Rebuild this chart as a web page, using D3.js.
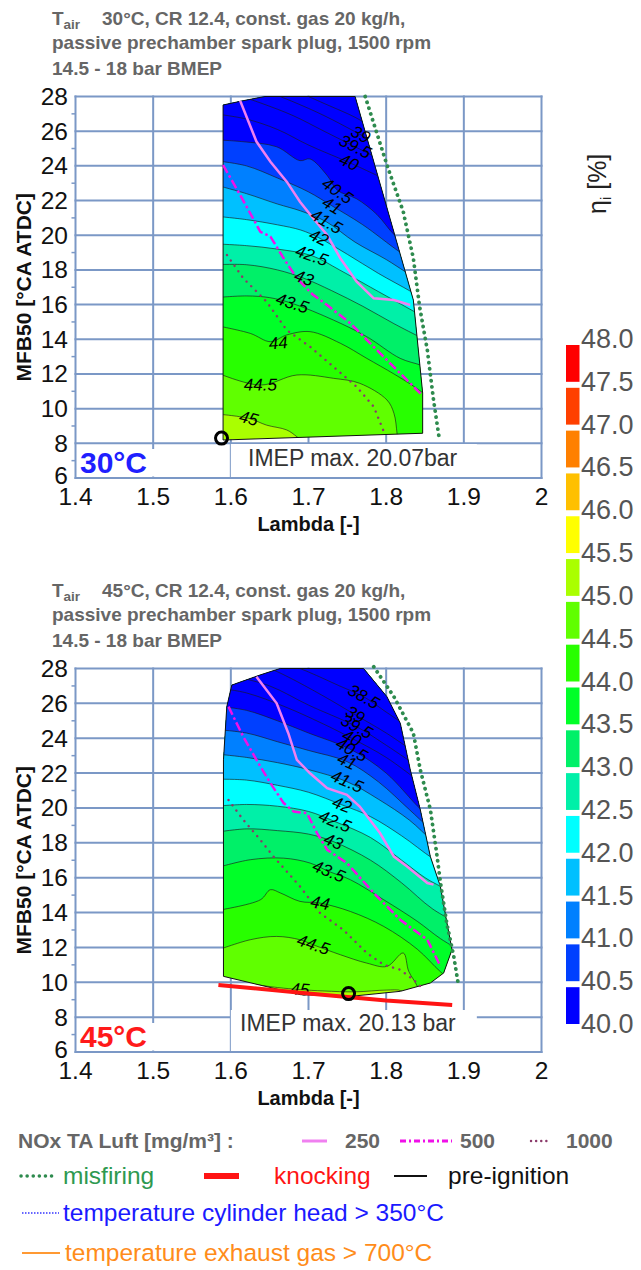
<!DOCTYPE html>
<html>
<head>
<meta charset="utf-8" />
<title>Indicated efficiency map</title>
<script src="https://d3js.org/d3.v7.min.js"></script>
<style>
  body { margin: 0; background: #fff; }
  svg { display: block; font-family: "Liberation Sans", Arial, sans-serif; }
</style>
</head>
<body>
<svg width="641" height="1270"></svg>
<script>
// axes
const xTicks = [1.4, 1.5, 1.6, 1.7, 1.8, 1.9, 2];
const yTicks = [6, 8, 10, 12, 14, 16, 18, 20, 22, 24, 26, 28];
const yMinor = [7, 9, 11, 13, 15, 17, 19, 21, 23, 25, 27];

// colour bar (eta_i, %)
const cbLevels = [40, 40.5, 41, 41.5, 42, 42.5, 43, 43.5, 44, 44.5, 45, 45.5, 46, 46.5, 47, 47.5, 48];
const cbColors = ["#0000ff", "#0040ff", "#0080ff", "#00c0ff", "#00ffff", "#00f0a8", "#00f068", "#00ff28",
                  "#28ff00", "#60ff00", "#aaff00", "#ffff00", "#ffc000", "#ff8000", "#ff4000", "#ff0000"];

// ---- 30 °C map: [lambda, MFB50]
const boundary30 = [[1.59, 8.19], [1.59, 27.51], [1.615, 27.75], [1.644, 28], [1.760, 28],
                    [1.835, 16.26], [1.847, 10.9], [1.847, 8.58]];
const iso30 = [
  [38.5, [[1.68, 28.4], [1.72, 27.6], [1.76, 26.8], [1.79, 26.0], [1.81, 25.4]]],
  [39, [[1.64, 28.4], [1.68, 27.7], [1.72, 26.9], [1.767, 25.8], [1.80, 25.0]]],
  [39.5, [[1.60, 28.2], [1.64, 27.6], [1.68, 26.9], [1.72, 26.0], [1.76, 25.1], [1.80, 24.2]]],
  [40, [[1.58, 27.0], [1.62, 26.7], [1.66, 26.1], [1.70, 25.2], [1.752, 24.2], [1.80, 23.2]]],
  [40.5, [[1.58, 25.5], [1.614, 25.4], [1.659, 25.1], [1.689, 24.3], [1.702, 24.4], [1.724, 23.45], [1.737, 22.6], [1.762, 22.1], [1.788, 21.2], [1.811, 20.0], [1.84, 19.0]]],
  [41, [[1.58, 24.3], [1.62, 24.0], [1.66, 23.3], [1.70, 22.5], [1.730, 21.7], [1.77, 20.6], [1.817, 19.05], [1.84, 18.4]]],
  [41.5, [[1.58, 22.9], [1.62, 22.4], [1.66, 21.8], [1.69, 21.4], [1.7228, 20.78], [1.76, 19.6], [1.80, 18.6], [1.8245, 17.9], [1.85, 17.2]]],
  [42, [[1.58, 21.1], [1.62, 20.9], [1.66, 20.6], [1.69, 20.3], [1.713, 19.86], [1.75, 18.9], [1.79, 17.8], [1.832, 16.75], [1.86, 16.0]]],
  [42.5, [[1.58, 19.5], [1.62, 19.4], [1.66, 19.2], [1.7044, 18.82], [1.74, 18.0], [1.78, 17.0], [1.82, 16.0], [1.84, 15.5], [1.86, 15.0]]],
  [43, [[1.58, 18.3], [1.62, 18.3], [1.66, 18.0], [1.694, 17.52], [1.73, 16.8], [1.77, 15.9], [1.81, 14.9], [1.845, 14.1], [1.86, 13.8]]],
  [43.5, [[1.58, 16.4], [1.62, 16.5], [1.65, 16.4], [1.679, 16.07], [1.732, 15.11], [1.775, 14.15], [1.818, 12.9], [1.845, 12.5], [1.86, 12.2]]],
  [44, [[1.58, 14.8], [1.625, 14.34], [1.651, 13.86], [1.672, 14.25], [1.702, 14.44], [1.741, 13.77], [1.775, 12.9], [1.81, 12.0], [1.835, 11.3], [1.86, 10.5]]],
  [44.5, [[1.58, 12.1], [1.638, 11.36], [1.685, 11.94], [1.732, 11.75], [1.766, 11.46], [1.801, 10.5], [1.81, 9.73], [1.814, 8.58], [1.816, 7.5]]],
  [45, [[1.58, 9.7], [1.623, 9.44], [1.646, 9.05], [1.672, 8.77], [1.685, 8.38], [1.70, 7.8]]]
];
const labels30 = [[39, 1.767, 25.8], [39.5, 1.760, 25.1], [40, 1.752, 24.2], [40.5, 1.737, 22.55], [41, 1.730, 21.7],
                  [41.5, 1.723, 20.78], [42, 1.713, 19.86], [42.5, 1.704, 18.82], [43, 1.694, 17.52], [43.5, 1.679, 16.07],
                  [44, 1.661, 13.77], [44.5, 1.638, 11.36], [45, 1.623, 9.44]];
const nox250_30 = [[1.612, 27.75], [1.633, 25.4], [1.651, 24.24], [1.672, 23.09], [1.689, 21.93], [1.706, 20.98], [1.724, 20.01],
                   [1.741, 18.67], [1.762, 17.32], [1.784, 16.36], [1.81, 16.26], [1.831, 15.98]];
const nox500_30 = [[1.59, 24.05], [1.612, 22.32], [1.638, 20.2], [1.651, 19.92], [1.668, 18.67], [1.685, 17.52], [1.705, 16.6],
                   [1.723, 16.0], [1.754, 14.92], [1.788, 13.38], [1.818, 12.04], [1.846, 10.79]];
const nox1000_30 = [[1.595, 18.86], [1.616, 17.52], [1.646, 16.17], [1.672, 14.53], [1.702, 13.57], [1.732, 12.42],
                    [1.762, 11.26], [1.784, 10.11], [1.797, 8.67]];
const misfire30 = [[1.773, 28], [1.801, 24.05], [1.822, 21.36], [1.835, 18.67], [1.843, 15.9], [1.853, 13.38], [1.861, 10.5], [1.868, 8.38]];
const marker30 = [1.588, 8.3];

// ---- 45 °C map
const boundary45 = [[1.5905, 10.34], [1.5905, 22.76], [1.5948, 25.81], [1.6013, 27.05], [1.6378, 27.63], [1.6635, 28],
                    [1.7709, 28], [1.801, 26.38], [1.8182, 24.86], [1.8311, 22.18], [1.844, 19.89], [1.8569, 17.21],
                    [1.8698, 15.5], [1.8783, 13.4], [1.8848, 11.87], [1.874, 10.53], [1.8569, 9.96], [1.8182, 9.48],
                    [1.7537, 9.19], [1.6893, 9.29]];
const iso45 = [
  [38.5, [[1.66, 28.5], [1.70, 27.8], [1.74, 27.0], [1.771, 26.38], [1.80, 25.5], [1.83, 24.6]]],
  [39, [[1.63, 28.4], [1.67, 27.6], [1.72, 26.4], [1.760, 25.35], [1.80, 24.3], [1.83, 23.4]]],
  [39.5, [[1.60, 27.6], [1.65, 27.0], [1.70, 25.9], [1.762, 24.66], [1.80, 23.6], [1.84, 22.4]]],
  [40, [[1.58, 26.9], [1.62, 26.6], [1.67, 25.8], [1.72, 24.8], [1.7556, 24.0], [1.80, 22.9], [1.84, 21.6]]],
  [40.5, [[1.58, 25.85], [1.62, 25.6], [1.66, 25.0], [1.70, 24.3], [1.7556, 23.33], [1.80, 22.0], [1.845, 19.9], [1.87, 19.0]]],
  [41, [[1.58, 24.5], [1.62, 24.3], [1.66, 23.8], [1.70, 23.3], [1.7495, 22.66], [1.79, 21.5], [1.83, 19.9], [1.855, 18.9], [1.88, 18.2]]],
  [41.5, [[1.58, 23.1], [1.62, 22.9], [1.66, 22.6], [1.70, 22.2], [1.7495, 21.51], [1.79, 20.5], [1.83, 19.3], [1.86, 18.1], [1.88, 17.5]]],
  [42, [[1.58, 21.65], [1.62, 21.6], [1.66, 21.3], [1.70, 20.9], [1.743, 20.18], [1.78, 19.5], [1.82, 18.4], [1.86, 17.1], [1.89, 16.3]]],
  [42.5, [[1.58, 20.1], [1.62, 20.2], [1.66, 20.1], [1.70, 19.8], [1.734, 19.22], [1.78, 18.3], [1.82, 17.0], [1.85, 16.0], [1.87, 15.5], [1.90, 14.8]]],
  [43, [[1.58, 18.6], [1.62, 18.8], [1.66, 18.7], [1.70, 18.5], [1.732, 18.07], [1.78, 17.0], [1.82, 15.7], [1.86, 14.2], [1.90, 13.2]]],
  [43.5, [[1.58, 16.55], [1.625, 17.03], [1.668, 17.12], [1.702, 16.84], [1.726, 16.36], [1.754, 15.88], [1.797, 14.73], [1.84, 13.5], [1.87, 12.5], [1.90, 11.7]]],
  [44, [[1.58, 14.1], [1.638, 14.73], [1.651, 15.31], [1.664, 15.12], [1.689, 14.64], [1.715, 14.54], [1.754, 14.06], [1.797, 13.2], [1.84, 11.9], [1.87, 10.6], [1.89, 9.9]]],
  [44.5, [[1.58, 11.8], [1.625, 12.44], [1.659, 12.63], [1.689, 12.44], [1.706, 12.15], [1.741, 11.58], [1.775, 11.1], [1.801, 10.91], [1.822, 11.68], [1.829, 10.63], [1.84, 9.77], [1.845, 8.8]]],
  [45, [[1.58, 10.3], [1.62, 9.95], [1.66, 9.7], [1.689, 9.58], [1.72, 9.5], [1.76, 9.45], [1.80, 9.55], [1.82, 9.5], [1.83, 9.0]]]
];
const labels45 = [[38.5, 1.771, 26.38], [39, 1.760, 25.35], [39.5, 1.762, 24.66], [40, 1.7556, 24.0], [40.5, 1.7556, 23.33],
                  [41, 1.7495, 22.66], [41.5, 1.7495, 21.51], [42, 1.743, 20.18], [42.5, 1.734, 19.22], [43, 1.732, 18.07],
                  [43.5, 1.726, 16.36], [44, 1.715, 14.54], [44.5, 1.706, 12.15], [45, 1.689, 9.58]];
const nox250_45 = [[1.633, 27.53], [1.659, 26.0], [1.674, 24.29], [1.685, 22.76], [1.702, 21.99], [1.724, 21.13], [1.7495, 20.75],
                   [1.766, 20.08], [1.792, 18.56], [1.81, 17.21], [1.827, 16.64], [1.853, 15.69], [1.861, 15.6]];
const nox500_45 = [[1.597, 25.81], [1.616, 24.09], [1.633, 22.76], [1.651, 21.42], [1.668, 20.28], [1.681, 19.79], [1.698, 19.7],
                   [1.711, 18.56], [1.724, 17.6], [1.7495, 16.84], [1.784, 15.12], [1.818, 13.59], [1.853, 12.44], [1.87, 10.91]];
const nox1000_45 = [[1.597, 20.46], [1.616, 19.32], [1.638, 18.17], [1.655, 17.21], [1.689, 15.5], [1.715, 13.97], [1.745, 13.0],
                    [1.775, 11.68], [1.797, 11.0], [1.818, 10.72], [1.835, 10.15], [1.844, 9.77]];
const misfire45 = [[1.784, 28.1], [1.81, 26.38], [1.835, 24.29], [1.844, 22.18], [1.857, 19.89], [1.865, 17.41], [1.87, 15.69],
                   [1.878, 13.4], [1.887, 11.49], [1.893, 9.86]];
const knock45 = [[1.584, 9.85], [1.70, 9.35], [1.80, 8.95], [1.885, 8.7]];
const marker45 = [1.7516, 9.35];

const gridColor = "#7b98c6";
const svg = d3.select("svg");
const defs = svg.append("defs");
const x = d3.scaleLinear().domain([1.4, 2]).range([75.5, 541.5]);

function interpAt(pts, lx) {
  for (let i = 0; i < pts.length - 1; i++) {
    const a = pts[i], b = pts[i + 1];
    if (lx >= a[0] && lx <= b[0]) return a[1] + (b[1] - a[1]) * (lx - a[0]) / (b[0] - a[0]);
  }
  return lx < pts[0][0] ? pts[0][1] : pts[pts.length - 1][1];
}

function drawChart(c) {
  const y = d3.scaleLinear().domain([6, 28]).range(c.yRange);
  const g = svg.append("g");
  const line = d3.line().x(d => x(d[0])).y(d => y(d[1]));
  const isoLine = d3.line().x(d => x(d[0])).y(d => y(d[1])).curve(d3.curveCatmullRom.alpha(0.5));

  // title
  const tt = g.append("g").attr("fill", "#666").attr("font-weight", "bold").attr("font-size", 19);
  const t1 = tt.append("text").attr("x", 52).attr("y", y(28) - 72);
  t1.append("tspan").text("T");
  t1.append("tspan").attr("font-size", 13.5).attr("dy", 4).text("air");
  tt.append("text").attr("x", 102).attr("y", y(28) - 72).text(c.title[0]);
  tt.append("text").attr("x", 52).attr("y", y(28) - 48).text(c.title[1]);
  tt.append("text").attr("x", 52).attr("y", y(28) - 22).text(c.title[2]);

  // grid
  g.append("g").selectAll("line").data(xTicks).join("line")
    .attr("x1", d => x(d)).attr("x2", d => x(d)).attr("y1", y(6) + 1).attr("y2", y(28) - 1)
    .attr("stroke", gridColor).attr("stroke-width", 2);
  g.append("g").selectAll("line").data(yTicks).join("line")
    .attr("x1", x(1.4) - 1).attr("x2", x(2) + 1).attr("y1", d => y(d)).attr("y2", d => y(d))
    .attr("stroke", gridColor).attr("stroke-width", 2);
  g.append("g").selectAll("line").data(yMinor).join("line")
    .attr("x1", x(1.4) - 4).attr("x2", x(1.4)).attr("y1", d => y(d)).attr("y2", d => y(d))
    .attr("stroke", gridColor).attr("stroke-width", 1.5);

  // filled contour bands clipped to the measured area
  const bPath = line(c.boundary) + "Z";
  defs.append("clipPath").attr("id", "clip" + c.id).append("path").attr("d", bPath);
  const cg = g.append("g").attr("clip-path", `url(#clip${c.id})`);
  const sorted = c.iso.slice().sort((a, b) => b[0] - a[0]);
  cg.append("path").attr("d", bPath).attr("fill", cbColors[cbLevels.indexOf(sorted[0][0])]);
  sorted.filter(d => d[0] >= 40.5).forEach(([L, pts]) => {
    const f = pts[0], l = pts[pts.length - 1];
    const d = isoLine(pts) + `L${x(2.2)},${y(l[1])}L${x(2.2)},${y(40)}L${x(1.3)},${y(40)}L${x(1.3)},${y(f[1])}Z`;
    cg.append("path").attr("d", d).attr("fill", cbColors[cbLevels.indexOf(L) - 1]);
  });
  cg.selectAll(".iso").data(c.iso).join("path").attr("class", "iso")
    .attr("d", d => isoLine(d[1])).attr("fill", "none")
    .attr("stroke", "#1a1a1a").attr("stroke-width", 0.8).attr("stroke-opacity", 0.8);
  g.append("path").attr("d", bPath).attr("fill", "none").attr("stroke", "#111").attr("stroke-width", 1);

  // limit lines
  g.append("path").attr("d", line(c.nox1000)).attr("fill", "none").attr("stroke", "#8b3a6a")
    .attr("stroke-width", 2.4).attr("stroke-linecap", "round").attr("stroke-dasharray", "0.1,6.5");
  g.append("path").attr("d", line(c.nox500)).attr("fill", "none").attr("stroke", "#f010e8")
    .attr("stroke-width", 2.5).attr("stroke-dasharray", "9,3,2.5,3");
  g.append("path").attr("d", line(c.nox250)).attr("fill", "none").attr("stroke", "#f080f0").attr("stroke-width", 2.5);
  g.append("path").attr("d", line(c.misfire)).attr("fill", "none").attr("stroke", "#2e8b4e")
    .attr("stroke-width", 3.8).attr("stroke-linecap", "round").attr("stroke-dasharray", "0.1,6");

  // contour labels
  c.labels.forEach(([L, lx, ly]) => {
    const l1 = lx - 0.025, l2 = lx + 0.025;
    const pts = c.iso.find(d => d[0] === L)[1];
    let ang = Math.atan2(y(interpAt(pts, l2)) - y(interpAt(pts, l1)), x(l2) - x(l1)) * 180 / Math.PI;
    ang = Math.max(-30, Math.min(35, ang));
    g.append("text").attr("transform", `translate(${x(lx)},${y(ly)}) rotate(${ang})`)
      .attr("text-anchor", "middle").attr("dominant-baseline", "central")
      .attr("font-size", 17).attr("font-style", "italic").attr("fill", "#000")
      .text(L);
  });

  // boxes
  g.append("rect").attr("x", x(1.6)).attr("y", c.imepBox[0]).attr("width", 246).attr("height", y(6) - 1 - c.imepBox[0]).attr("fill", "#fff");
  g.append("text").attr("x", c.imepBox[1]).attr("y", c.imepBox[2]).attr("font-size", 23).attr("fill", "#333").text(c.imep);
  g.append("rect").attr("x", x(1.4) + 1.5).attr("y", y(6) - 29).attr("width", 78).attr("height", 27.5).attr("fill", "#fff");
  g.append("text").attr("x", 80).attr("y", y(6) - 5).attr("font-size", 30).attr("font-weight", "bold")
    .attr("fill", c.tempColor).text(c.temp);

  if (c.knock) {
    g.append("path").attr("d", line(c.knock)).attr("fill", "none").attr("stroke", "#ff1414").attr("stroke-width", 4);
  }
  g.append("circle").attr("cx", x(c.marker[0])).attr("cy", y(c.marker[1])).attr("r", 6)
    .attr("fill", "none").attr("stroke", "#000").attr("stroke-width", 3);

  // tick labels and axis titles
  g.append("g").selectAll("text").data(yTicks).join("text")
    .attr("x", 68).attr("y", d => y(d) + (d === 6 ? 6 : 8.5)).attr("text-anchor", "end")
    .attr("font-size", 24.5).attr("fill", "#111").text(d => d);
  g.append("g").selectAll("text").data(xTicks).join("text")
    .attr("x", d => x(d)).attr("y", y(6) + 27).attr("text-anchor", "middle")
    .attr("font-size", 24.5).attr("fill", "#111").text(d => d);
  g.append("text").attr("x", x(1.7)).attr("y", y(6) + 53).attr("text-anchor", "middle")
    .attr("font-size", 20).attr("font-weight", "bold").attr("fill", "#111").text("Lambda [-]");
  g.append("text").attr("transform", `translate(31,${(y(6) + y(28)) / 2}) rotate(-90)`).attr("text-anchor", "middle")
    .attr("font-size", 21).attr("font-weight", "bold").attr("fill", "#111").text("MFB50 [°CA ATDC]");
}

drawChart({
  id: 30, yRange: [478, 96.5], boundary: boundary30, iso: iso30, labels: labels30,
  nox250: nox250_30, nox500: nox500_30, nox1000: nox1000_30, misfire: misfire30, marker: marker30,
  title: ["30°C, CR 12.4, const. gas 20 kg/h,", "passive prechamber spark plug, 1500 rpm", "14.5 - 18 bar BMEP"],
  imep: "IMEP max. 20.07bar", imepBox: [444, 248, 466], temp: "30°C", tempColor: "#1f1fff"
});
drawChart({
  id: 45, yRange: [1052, 668.5], boundary: boundary45, iso: iso45, labels: labels45,
  nox250: nox250_45, nox500: nox500_45, nox1000: nox1000_45, misfire: misfire45, knock: knock45, marker: marker45,
  title: ["45°C, CR 12.4, const. gas 20 kg/h,", "passive prechamber spark plug, 1500 rpm", "14.5 - 18 bar BMEP"],
  imep: "IMEP max. 20.13 bar", imepBox: [1010, 240, 1031], temp: "45°C", tempColor: "#ff1a1a"
});

// colour bar
const cbY = d3.scaleLinear().domain([40, 48]).range([1027, 342]);
const bands = cbColors.map((col, i) => ({ lo: cbLevels[i], hi: cbLevels[i + 1], col }));
svg.append("g").selectAll("rect").data(bands).join("rect")
  .attr("x", 566).attr("width", 13.5)
  .attr("y", d => cbY(d.hi) + 3).attr("height", d => cbY(d.lo) - cbY(d.hi) - 6)
  .attr("fill", d => d.col);
svg.append("g").selectAll("text").data(cbLevels).join("text")
  .attr("x", 581).attr("y", d => cbY(d) + 6).attr("font-size", 27).attr("fill", "#555")
  .text(d => d.toFixed(1));
const cbt = svg.append("text").attr("transform", "translate(606,214) rotate(-90)")
  .attr("font-size", 25).attr("fill", "#222");
cbt.append("tspan").text("η");
cbt.append("tspan").attr("font-size", 15).attr("dy", 5).text("i");
cbt.append("tspan").attr("dy", -5).text(" [%]");

// legend
const lg = svg.append("g");
lg.append("text").attr("x", 18).attr("y", 1148).attr("font-size", 21).attr("font-weight", "bold").attr("fill", "#666")
  .text("NOx TA Luft [mg/m³] :");
lg.append("line").attr("x1", 302).attr("x2", 327).attr("y1", 1141).attr("y2", 1141).attr("stroke", "#f080f0").attr("stroke-width", 3);
lg.append("line").attr("x1", 400).attr("x2", 452).attr("y1", 1141).attr("y2", 1141).attr("stroke", "#f010e8")
  .attr("stroke-width", 3).attr("stroke-dasharray", "6,3,2,3");
lg.append("line").attr("x1", 531).attr("x2", 551).attr("y1", 1141).attr("y2", 1141).attr("stroke", "#8b3a6a")
  .attr("stroke-width", 2.4).attr("stroke-linecap", "round").attr("stroke-dasharray", "0.1,5");
[["250", 345], ["500", 460], ["1000", 566]].forEach(([t, lx]) => {
  lg.append("text").attr("x", lx).attr("y", 1148).attr("font-size", 21).attr("font-weight", "bold").attr("fill", "#666").text(t);
});
lg.append("line").attr("x1", 21).attr("x2", 53).attr("y1", 1176).attr("y2", 1176).attr("stroke", "#2e8b4e")
  .attr("stroke-width", 3.5).attr("stroke-linecap", "round").attr("stroke-dasharray", "0.1,6");
lg.append("text").attr("x", 63).attr("y", 1184).attr("font-size", 24.5).attr("fill", "#2e9950").text("misfiring");
lg.append("line").attr("x1", 204).attr("x2", 239).attr("y1", 1176).attr("y2", 1176).attr("stroke", "#ff1414").attr("stroke-width", 6);
lg.append("text").attr("x", 274).attr("y", 1184).attr("font-size", 24.5).attr("fill", "#ff1414").text("knocking");
lg.append("line").attr("x1", 394).attr("x2", 427).attr("y1", 1176).attr("y2", 1176).attr("stroke", "#111").attr("stroke-width", 2);
lg.append("text").attr("x", 448).attr("y", 1184).attr("font-size", 24.5).attr("fill", "#111").text("pre-ignition");
lg.append("line").attr("x1", 22).attr("x2", 59).attr("y1", 1213).attr("y2", 1213).attr("stroke", "#3535ff")
  .attr("stroke-width", 1.5).attr("stroke-dasharray", "1.5,1.5");
lg.append("text").attr("x", 63).attr("y", 1221).attr("font-size", 24.5).attr("fill", "#1a1aff").text("temperature cylinder head > 350°C");
lg.append("line").attr("x1", 22).attr("x2", 60).attr("y1", 1253).attr("y2", 1253).attr("stroke", "#ff9933").attr("stroke-width", 2);
lg.append("text").attr("x", 65).attr("y", 1261).attr("font-size", 24.5).attr("fill", "#ff8c1a").text("temperature exhaust gas > 700°C");
</script>
</body>
</html>
